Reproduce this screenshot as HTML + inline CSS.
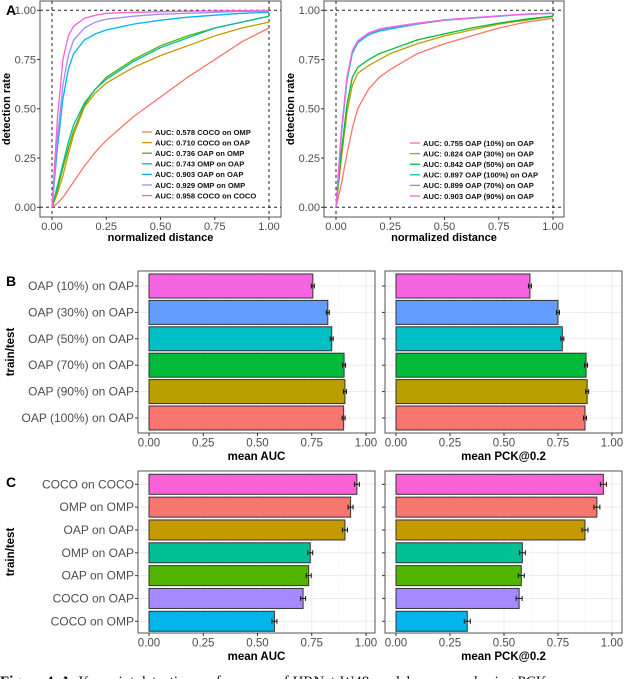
<!DOCTYPE html>
<html><head><meta charset="utf-8"><style>
html,body{margin:0;padding:0;background:#fff;width:640px;height:679px;overflow:hidden}
svg{display:block}
text{font-family:"Liberation Sans",sans-serif}
</style></head><body>
<svg id="fig" width="640" height="679" xmlns="http://www.w3.org/2000/svg"></svg>
<script>
const NS="http://www.w3.org/2000/svg";
const svg=document.getElementById('fig');
// ---- data ----
const curveX=[0,0.025,0.05,0.075,0.1,0.15,0.2,0.25,0.375,0.5,0.625,0.75,0.875,1];
const leftLabels=["AUC: 0.578 COCO on OMP","AUC: 0.710 COCO on OAP","AUC: 0.736 OAP on OMP","AUC: 0.743 OMP on OAP","AUC: 0.903 OAP on OAP","AUC: 0.929 OMP on OMP","AUC: 0.958 COCO on COCO"];
const leftColors=["#F8766D","#C49A00","#53B400","#00C094","#00B6EB","#A58AFF","#FB61D7"];
const leftY0=[0,0.02,0.05,0.09,0.13,0.21,0.28,0.34,0.46,0.56,0.66,0.75,0.84,0.91];
const leftY1=[0,0.07,0.16,0.27,0.37,0.51,0.58,0.63,0.71,0.77,0.82,0.87,0.91,0.94];
const leftY2=[0,0.09,0.2,0.3,0.39,0.52,0.6,0.66,0.75,0.82,0.87,0.91,0.94,0.97];
const leftY3=[0,0.11,0.22,0.33,0.42,0.53,0.6,0.65,0.74,0.81,0.86,0.91,0.94,0.97];
const leftY4=[0,0.3,0.55,0.7,0.78,0.85,0.88,0.9,0.93,0.95,0.965,0.975,0.985,0.99];
const leftY5=[0,0.35,0.62,0.77,0.85,0.91,0.94,0.955,0.97,0.98,0.985,0.99,0.995,0.995];
const leftY6=[0,0.45,0.75,0.87,0.92,0.96,0.975,0.985,0.99,0.993,0.995,0.997,0.998,0.999];
const rightLabels=["AUC: 0.755 OAP (10%) on OAP","AUC: 0.824 OAP (30%) on OAP","AUC: 0.842 OAP (50%) on OAP","AUC: 0.897 OAP (100%) on OAP","AUC: 0.899 OAP (70%) on OAP","AUC: 0.903 OAP (90%) on OAP"];
const rightColors=["#F8766D","#B79F00","#00BA38","#00BFC4","#619CFF","#F564E3"];
const rightY0=[0,0.12,0.27,0.4,0.5,0.6,0.66,0.7,0.78,0.83,0.87,0.91,0.94,0.96];
const rightY1=[0,0.25,0.48,0.62,0.68,0.72,0.75,0.78,0.83,0.87,0.9,0.93,0.95,0.97];
const rightY2=[0,0.28,0.52,0.66,0.71,0.75,0.78,0.8,0.85,0.88,0.91,0.935,0.955,0.97];
const rightY3=[0,0.37,0.64,0.78,0.835,0.875,0.895,0.905,0.93,0.95,0.96,0.97,0.98,0.985];
const rightY4=[0,0.38,0.65,0.79,0.84,0.88,0.9,0.91,0.93,0.95,0.96,0.97,0.98,0.985];
const rightY5=[0,0.39,0.66,0.795,0.845,0.885,0.905,0.915,0.935,0.952,0.962,0.972,0.98,0.985];
const ticks=[0,0.25,0.5,0.75,1];
const tickLabels=["0.00","0.25","0.50","0.75","1.00"];
const bCats=["OAP (10%) on OAP","OAP (30%) on OAP","OAP (50%) on OAP","OAP (70%) on OAP","OAP (90%) on OAP","OAP (100%) on OAP"];
const bColors=["#F564E3","#619CFF","#00BFC4","#00BA38","#B79F00","#F8766D"];
const bAUC=[0.755,0.824,0.842,0.899,0.903,0.897];
const bPCK=[0.62,0.75,0.77,0.88,0.885,0.875];
const cCats=["COCO on COCO","OMP on OMP","OAP on OAP","OMP on OAP","OAP on OMP","COCO on OAP","COCO on OMP"];
const cColors=["#FB61D7","#F8766D","#C49A00","#00C094","#53B400","#A58AFF","#00B6EB"];
const cAUC=[0.958,0.929,0.903,0.743,0.736,0.710,0.578];
const cPCK=[0.96,0.93,0.875,0.585,0.58,0.57,0.33];

function el(tag,attrs,parent){const e=document.createElementNS(NS,tag);for(const k in attrs)e.setAttribute(k,attrs[k]);(parent||svg).appendChild(e);return e;}
function txt(s,x,y,attrs,parent){const t=el('text',Object.assign({x:x,y:y},attrs),parent);t.textContent=s;return t;}

// ---- panel A ----
function linePanel(name,px0,px1,py0,py1,x0,x1,y0,y1,series,colors,labels,legX,legY){
  const g=el('g',{});
  
  
  const sx=v=>x0+(x1-x0)*v, sy=v=>y0+(y1-y0)*v;
  el('rect',{x:px0,y:py0,width:px1-px0,height:py1-py0,fill:'#fff',stroke:'#555','stroke-width':1},g);
  [[sx(0),py0,sx(0),py1],[sx(1),py0,sx(1),py1],[px0,sy(0),px1,sy(0)],[px0,sy(1),px1,sy(1)]].forEach(l=>{
    const d=el('line',{x1:l[0],y1:l[1],x2:l[2],y2:l[3],stroke:'#222','stroke-dasharray':'3,3','stroke-width':1},g);
    
    
  });
  series.forEach((ys,i)=>{
    const p=el('polyline',{points:curveX.map((x,j)=>sx(x).toFixed(1)+','+sy(ys[j]).toFixed(1)).join(' '),fill:'none',stroke:colors[i],'stroke-width':1.3},g);
    
    
  });
  ticks.forEach((t,i)=>{
    el('line',{x1:sx(t),y1:py1,x2:sx(t),y2:py1+3,stroke:'#333'},g);
    const a=txt(tickLabels[i],sx(t),py1+13,{'font-size':11,fill:'#4d4d4d','text-anchor':'middle'},g);
    
    
    el('line',{x1:px0-3,y1:sy(t),x2:px0,y2:sy(t),stroke:'#333'},g);
    const b=txt(tickLabels[i],px0-4,sy(t)+3.8,{'font-size':11,fill:'#4d4d4d','text-anchor':'end'},g);
    
    
  });
  const xt=txt('normalized distance',(px0+px1)/2,py1+24,{'font-size':11,'font-weight':'bold','text-anchor':'middle'},g);
  
  
  const yt=txt('detection rate',0,0,{'font-size':11,'font-weight':'bold','text-anchor':'middle',transform:`translate(${px0-30},${(py0+py1)/2}) rotate(-90)`},g);
  
  
  labels.forEach((s,i)=>{
    const y=legY+i*10.6;
    const lg=el('g',{},g);
    
    
    el('line',{x1:legX,y1:y,x2:legX+10,y2:y,stroke:colors[i],'stroke-width':1.3},lg);
    txt(s,legX+13,y+2.8,{'font-size':7.6,'font-weight':'bold',fill:'#111'},lg);
  });
}
linePanel('panel-a-left-chart',40,281,1,217,52,269,207.3,10.3,[leftY0,leftY1,leftY2,leftY3,leftY4,leftY5,leftY6],leftColors,leftLabels,142,132);
linePanel('panel-a-right-chart',324,564,1,217,336,553,207.3,10.3,[rightY0,rightY1,rightY2,rightY3,rightY4,rightY5],rightColors,rightLabels,410,143);

// ---- bar panels ----
function barPanel(name,px0,px1,py0,py1,x0,x1,cats,vals,colors,rowTop,rowStep,barH,err,showCats,xtitle){
  const g=el('g',{});
  
  
  const sx=v=>x0+(x1-x0)*v;
  el('rect',{x:px0,y:py0,width:px1-px0,height:py1-py0,fill:'#fff'},g);
  [0.125,0.375,0.625,0.875].forEach(t=>el('line',{x1:sx(t),y1:py0,x2:sx(t),y2:py1,stroke:'#f2f2f2','stroke-width':0.6},g));
  ticks.forEach(t=>el('line',{x1:sx(t),y1:py0,x2:sx(t),y2:py1,stroke:'#ebebeb','stroke-width':1},g));
  cats.forEach((c,i)=>{const cy=rowTop+i*rowStep;el('line',{x1:px0,y1:cy,x2:px1,y2:cy,stroke:'#ebebeb'},g);});
  cats.forEach((c,i)=>{
    const cy=rowTop+i*rowStep;
    const r=el('rect',{x:sx(0),y:cy-barH/2,width:sx(vals[i])-sx(0),height:barH,fill:colors[i],stroke:'#333','stroke-width':1},g);
    
    
    const ex=sx(vals[i]);
    el('line',{x1:ex-err,y1:cy,x2:ex+err,y2:cy,stroke:'#111','stroke-width':1},g);
    el('line',{x1:ex-err,y1:cy-2.5,x2:ex-err,y2:cy+2.5,stroke:'#111','stroke-width':1},g);
    el('line',{x1:ex+err,y1:cy-2.5,x2:ex+err,y2:cy+2.5,stroke:'#111','stroke-width':1},g);
    el('line',{x1:px0-3,y1:cy,x2:px0,y2:cy,stroke:'#333'},g);
    if(showCats){
      const t=txt(c,px0-4,cy+4,{'font-size':12,fill:'#4d4d4d','text-anchor':'end'},g);
      
      
    }
  });
  el('rect',{x:px0,y:py0,width:px1-px0,height:py1-py0,fill:'none',stroke:'#555','stroke-width':1},g);
  ticks.forEach((t,i)=>{
    el('line',{x1:sx(t),y1:py1,x2:sx(t),y2:py1+3,stroke:'#333'},g);
    const a=txt(tickLabels[i],sx(t),py1+13.5,{'font-size':11.5,fill:'#4d4d4d','text-anchor':'middle'},g);
    
    
  });
  const xt=txt(xtitle,(px0+px1)/2,py1+27,{'font-size':11.5,'font-weight':'bold','text-anchor':'middle'},g);
  
  
}
barPanel('panel-b-auc-chart',138,375,271,433,149,366,bCats,bAUC,bColors,286,26.4,24,1.5,true,'mean AUC');
barPanel('panel-b-pck-chart',385,622,271,433,396,612,bCats,bPCK,bColors,286,26.4,24,1.5,false,'mean PCK@0.2');
barPanel('panel-c-auc-chart',138,375,471,633,149,366,cCats,cAUC,cColors,484.3,22.83,20,2.5,true,'mean AUC');
barPanel('panel-c-pck-chart',385,622,471,633,396,612,cCats,cPCK,cColors,484.3,22.83,20,3,false,'mean PCK@0.2');

// y titles & panel letters
[['train/test',352],['train/test',552]].forEach(a=>{
  const t=txt(a[0],0,0,{'font-size':11.5,'font-weight':'bold','text-anchor':'middle',transform:`translate(14,${a[1]}) rotate(-90)`});
  
  
});
[['A',6,15],['B',6,286],['C',6,487]].forEach(a=>{
  const t=txt(a[0],a[1],a[2],{'font-size':14,'font-weight':'bold'});
  
  
});
const cap=el('text',{x:0,y:686,'font-size':15,fill:'#111',style:'font-family:"Liberation Serif",serif'});


const capB=el('tspan',{'font-weight':'bold'},cap);capB.textContent='Figure 4. A.';
const capR=el('tspan',{},cap);capR.textContent=' Keypoint detection performance of HRNet-W48 models measured using PCK';
</script>
</body></html>
